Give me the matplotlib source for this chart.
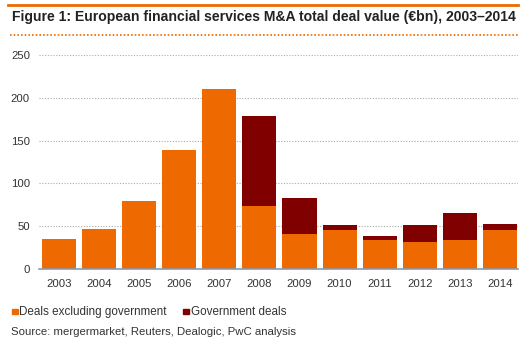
import numpy as np
import matplotlib
matplotlib.use("Agg")
import matplotlib.pyplot as plt
from matplotlib.patches import Rectangle
from matplotlib.lines import Line2D

plt.rcParams['font.family'] = ['Liberation Sans', 'DejaVu Sans']

years = ['2003', '2004', '2005', '2006', '2007', '2008', '2009', '2010', '2011', '2012', '2013', '2014']
excl_gov = [35, 47, 80, 139, 210, 74, 41, 46, 34, 32, 34, 46]
gov = [0, 0, 0, 0, 0, 105, 42, 5, 5, 19, 31, 7]
yticks = [0, 50, 100, 150, 200, 250]

orange = '#EE6A00'
darkred = '#800000'

fig = plt.figure(figsize=(5.31, 3.44), dpi=100)
ax = fig.add_axes([0.0734, 0.218, 0.902, 0.622])

x = np.arange(len(years))
ax.bar(x, excl_gov, width=0.85, color=orange, zorder=3)
ax.bar(x, gov, width=0.85, bottom=excl_gov, color=darkred, zorder=3)

ax.set_xlim(-0.5, 11.45)
ax.set_ylim(0, 250)
ax.set_yticks(yticks)
ax.set_xticks(x)
ax.set_xticklabels(years)
ax.tick_params(length=0, labelsize=8.2, colors='#333333')
ax.tick_params(axis='y', pad=6.5)
ax.tick_params(axis='x', pad=7)
ax.yaxis.grid(True, linestyle=(0, (1, 1.5)), color='#aaaaaa', linewidth=0.8, zorder=0)
for s in ['top', 'right', 'left']:
    ax.spines[s].set_visible(False)
ax.spines['bottom'].set_color('#8a9bb0')
ax.spines['bottom'].set_linewidth(1.2)
ax.spines['bottom'].set_zorder(4)

# header
fig.add_artist(Line2D([0.015, 0.976], [0.985, 0.985], color=orange, linewidth=2))
fig.text(0.022, 0.951, 'Figure 1: European financial services M&A total deal value (€bn), 2003–2014',
         fontsize=10.1, fontweight='bold', color='#222222', va='center')
fig.add_artist(Line2D([0.019, 0.976], [0.898, 0.898], color=orange, linewidth=1.2,
                      linestyle=(0, (1, 1.2))))

# legend
fig.patches.append(Rectangle((0.023, 0.087), 0.010, 0.016, transform=fig.transFigure, color=orange))
fig.text(0.036, 0.094, 'Deals excluding government', fontsize=8.4, color='#333333', va='center')
fig.patches.append(Rectangle((0.345, 0.087), 0.010, 0.016, transform=fig.transFigure, color=darkred))
fig.text(0.359, 0.094, 'Government deals', fontsize=8.4, color='#333333', va='center')
fig.text(0.021, 0.035, 'Source: mergermarket, Reuters, Dealogic, PwC analysis', fontsize=8.2,
         color='#333333', va='center')

fig.savefig('out.png', dpi=100)
